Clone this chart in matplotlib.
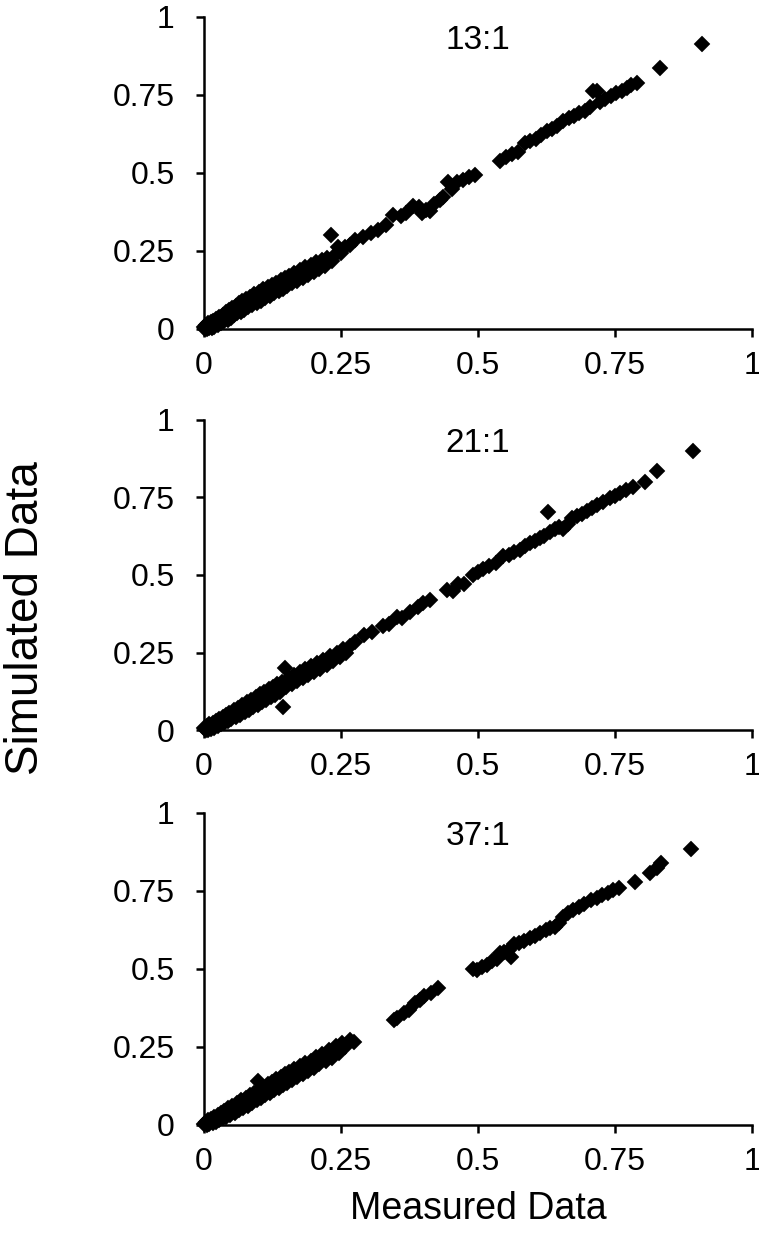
import matplotlib
matplotlib.use("Agg")
import matplotlib.pyplot as plt

plt.rcParams['font.family'] = ['Liberation Sans', 'DejaVu Sans']

panel_titles = ["13:1", "21:1", "37:1"]
tick_values = [0, 0.25, 0.5, 0.75, 1]
tick_labels = ["0", "0.25", "0.5", "0.75", "1"]

# ---- 13:1 ----
m13 = [0.000, 0.002, 0.004, 0.006, 0.008, 0.010, 0.012, 0.014, 0.016, 0.019,
       0.022, 0.025, 0.028, 0.031, 0.034, 0.037, 0.040, 0.043, 0.046, 0.049,
       0.052, 0.055, 0.058, 0.061, 0.064, 0.067, 0.070, 0.073, 0.076, 0.080,
       0.084, 0.088, 0.092, 0.096, 0.100, 0.104, 0.108, 0.112, 0.116, 0.120,
       0.124, 0.128, 0.132, 0.136, 0.140, 0.144, 0.148, 0.152, 0.156, 0.160,
       0.165, 0.170, 0.175, 0.180, 0.185, 0.190, 0.195, 0.200, 0.205, 0.210,
       0.215, 0.220, 0.225, 0.231, 0.233, 0.240, 0.245, 0.250, 0.258, 0.266,
       0.276, 0.290, 0.305, 0.318, 0.333, 0.345, 0.360, 0.368, 0.382, 0.392,
       0.398, 0.405, 0.412, 0.420, 0.430, 0.437, 0.446, 0.452, 0.462, 0.473,
       0.484, 0.495, 0.540, 0.552, 0.562, 0.573, 0.585, 0.595, 0.605, 0.615,
       0.625, 0.635, 0.645, 0.656, 0.666, 0.675, 0.685, 0.695, 0.705, 0.710,
       0.718, 0.722, 0.732, 0.742, 0.752, 0.762, 0.772, 0.780, 0.790, 0.832,
       0.908]
s13 = [0.006, 0.000, 0.014, 0.000, 0.018, 0.002, 0.022, 0.004, 0.026, 0.008,
       0.032, 0.014, 0.038, 0.020, 0.044, 0.026, 0.054, 0.030, 0.060, 0.036,
       0.066, 0.044, 0.074, 0.050, 0.084, 0.056, 0.090, 0.062, 0.096, 0.070,
       0.102, 0.076, 0.112, 0.082, 0.120, 0.090, 0.128, 0.098, 0.134, 0.106,
       0.142, 0.114, 0.148, 0.122, 0.156, 0.128, 0.164, 0.138, 0.170, 0.146,
       0.180, 0.154, 0.188, 0.162, 0.198, 0.172, 0.205, 0.184, 0.214, 0.192,
       0.222, 0.202, 0.228, 0.301, 0.218, 0.240, 0.264, 0.242, 0.262, 0.268,
       0.285, 0.295, 0.308, 0.318, 0.333, 0.366, 0.362, 0.372, 0.395, 0.390,
       0.372, 0.382, 0.378, 0.400, 0.412, 0.424, 0.470, 0.450, 0.470, 0.478,
       0.488, 0.495, 0.540, 0.550, 0.560, 0.566, 0.595, 0.604, 0.610, 0.622,
       0.636, 0.642, 0.652, 0.668, 0.676, 0.684, 0.693, 0.700, 0.712, 0.762,
       0.764, 0.726, 0.738, 0.748, 0.756, 0.764, 0.774, 0.782, 0.790, 0.835,
       0.912]

# ---- 21:1 ----
m21 = [0.000, 0.003, 0.005, 0.008, 0.010, 0.013, 0.016, 0.019, 0.022, 0.025,
       0.028, 0.031, 0.034, 0.037, 0.040, 0.043, 0.046, 0.050, 0.054, 0.058,
       0.062, 0.066, 0.070, 0.074, 0.078, 0.082, 0.086, 0.090, 0.094, 0.098,
       0.102, 0.106, 0.110, 0.114, 0.118, 0.122, 0.126, 0.130, 0.134, 0.138,
       0.142, 0.145, 0.147, 0.150, 0.155, 0.160, 0.165, 0.170, 0.175, 0.180,
       0.185, 0.190, 0.195, 0.200, 0.206, 0.212, 0.218, 0.224, 0.230, 0.236,
       0.242, 0.248, 0.254, 0.260, 0.266, 0.276, 0.292, 0.306, 0.327, 0.337,
       0.352, 0.362, 0.376, 0.390, 0.400, 0.412, 0.443, 0.455, 0.464, 0.475,
       0.491, 0.500, 0.510, 0.520, 0.532, 0.546, 0.556, 0.566, 0.576, 0.586,
       0.595, 0.604, 0.613, 0.620, 0.628, 0.632, 0.640, 0.648, 0.656, 0.665,
       0.672, 0.680, 0.690, 0.698, 0.708, 0.718, 0.729, 0.740, 0.750, 0.759,
       0.770, 0.783, 0.805, 0.826, 0.893]
s21 = [0.006, 0.000, 0.014, 0.000, 0.018, 0.004, 0.024, 0.008, 0.030, 0.012,
       0.036, 0.018, 0.042, 0.024, 0.050, 0.028, 0.056, 0.034, 0.064, 0.042,
       0.072, 0.050, 0.080, 0.058, 0.090, 0.066, 0.098, 0.074, 0.106, 0.082,
       0.116, 0.090, 0.124, 0.098, 0.132, 0.106, 0.140, 0.114, 0.148, 0.124,
       0.156, 0.075, 0.199, 0.140, 0.168, 0.148, 0.178, 0.158, 0.188, 0.168,
       0.198, 0.178, 0.206, 0.188, 0.216, 0.198, 0.226, 0.210, 0.238, 0.224,
       0.250, 0.236, 0.262, 0.250, 0.272, 0.285, 0.306, 0.317, 0.335, 0.342,
       0.366, 0.360, 0.382, 0.398, 0.409, 0.418, 0.452, 0.448, 0.470, 0.470,
       0.500, 0.510, 0.518, 0.528, 0.540, 0.560, 0.566, 0.574, 0.582, 0.594,
       0.602, 0.610, 0.620, 0.626, 0.704, 0.640, 0.648, 0.656, 0.650, 0.665,
       0.684, 0.690, 0.698, 0.708, 0.716, 0.726, 0.737, 0.748, 0.756, 0.763,
       0.774, 0.785, 0.801, 0.835, 0.901]

# ---- 37:1 ----
m37 = [0.000, 0.003, 0.005, 0.008, 0.010, 0.013, 0.016, 0.019, 0.022, 0.025,
       0.028, 0.031, 0.034, 0.037, 0.040, 0.044, 0.048, 0.052, 0.056, 0.060,
       0.064, 0.068, 0.072, 0.076, 0.080, 0.084, 0.088, 0.092, 0.096, 0.099,
       0.100, 0.104, 0.108, 0.112, 0.116, 0.120, 0.124, 0.128, 0.132, 0.136,
       0.140, 0.144, 0.148, 0.152, 0.156, 0.160, 0.165, 0.170, 0.175, 0.180,
       0.185, 0.190, 0.195, 0.200, 0.205, 0.210, 0.216, 0.222, 0.228, 0.234,
       0.240, 0.246, 0.252, 0.258, 0.266, 0.274, 0.347, 0.352, 0.365, 0.374,
       0.385, 0.394, 0.401, 0.414, 0.427, 0.490, 0.498, 0.507, 0.516, 0.526,
       0.534, 0.540, 0.548, 0.556, 0.561, 0.566, 0.574, 0.584, 0.594, 0.604,
       0.614, 0.624, 0.632, 0.640, 0.648, 0.656, 0.665, 0.674, 0.684, 0.694,
       0.707, 0.717, 0.727, 0.737, 0.747, 0.757, 0.787, 0.814, 0.826, 0.834,
       0.888]
s37 = [0.004, 0.010, 0.000, 0.016, 0.002, 0.020, 0.006, 0.026, 0.010, 0.032,
       0.016, 0.038, 0.022, 0.046, 0.026, 0.054, 0.032, 0.062, 0.040, 0.070,
       0.048, 0.080, 0.056, 0.088, 0.062, 0.096, 0.070, 0.104, 0.080, 0.140,
       0.112, 0.088, 0.120, 0.096, 0.130, 0.104, 0.138, 0.112, 0.146, 0.120,
       0.154, 0.128, 0.162, 0.136, 0.170, 0.144, 0.178, 0.154, 0.188, 0.164,
       0.198, 0.174, 0.206, 0.184, 0.218, 0.194, 0.228, 0.204, 0.240, 0.216,
       0.254, 0.232, 0.262, 0.250, 0.272, 0.266, 0.337, 0.342, 0.360, 0.369,
       0.392, 0.402, 0.412, 0.422, 0.438, 0.500, 0.496, 0.508, 0.514, 0.526,
       0.532, 0.551, 0.556, 0.562, 0.540, 0.580, 0.583, 0.590, 0.598, 0.606,
       0.615, 0.626, 0.630, 0.636, 0.648, 0.668, 0.680, 0.689, 0.698, 0.708,
       0.721, 0.728, 0.736, 0.744, 0.752, 0.759, 0.780, 0.807, 0.825, 0.839,
       0.885]

measured = [m13, m21, m37]
simulated = [s13, s21, s37]

fig = plt.figure(figsize=(7.59, 12.37), dpi=100)
W, H = 759.0, 1237.0
left_px, right_px = 204, 752
panels_px = [(17, 329), (420, 730), (813, 1125)]

for (top, bot), title, mx, sy in zip(panels_px, panel_titles, measured, simulated):
    ax = fig.add_axes([left_px / W, 1 - bot / H, (right_px - left_px) / W, (bot - top) / H])
    ax.plot(mx, sy, linestyle='none', marker='D', markersize=8.5,
            color='black', markeredgewidth=0.3, clip_on=False)
    ax.set_xlim(0, 1)
    ax.set_ylim(0, 1)
    ax.set_xticks(tick_values)
    ax.set_xticklabels(tick_labels)
    ax.set_yticks(tick_values)
    ax.set_yticklabels(tick_labels)
    for side in ['top', 'right']:
        ax.spines[side].set_visible(False)
    for side in ['left', 'bottom']:
        ax.spines[side].set_linewidth(1.8)
    ax.tick_params(axis='both', direction='out', length=6, width=1.8,
                   labelsize=23, colors='black')
    ax.tick_params(axis='y', pad=15)
    ax.tick_params(axis='x', pad=10)
    ax.text(0.5, 0.925, title, transform=ax.transAxes, ha='center', va='center',
            fontsize=24)

fig.text(26 / W, 1 - 618 / H, 'Simulated Data', rotation=90, ha='center', va='center', fontsize=33)
fig.text(478 / W, 1 - 1209 / H, 'Measured Data', ha='center', va='center', fontsize=27)

fig.savefig('out.png', dpi=100)
